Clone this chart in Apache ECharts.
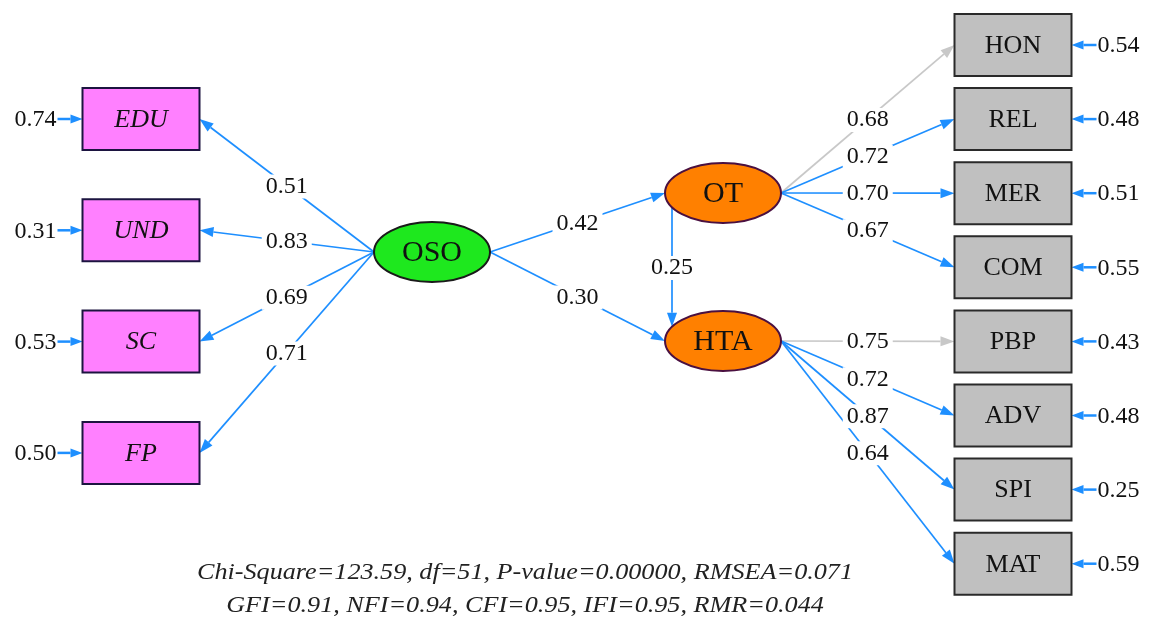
<!DOCTYPE html>
<html>
<head>
<meta charset="utf-8">
<script src="https://cdn.jsdelivr.net/npm/echarts@6/dist/echarts.min.js"></script>
<style>html,body{margin:0;padding:0;background:#fff;}#c{width:1149px;height:619px;}</style>
</head>
<body>
<div id="c"></div>
<script>
// ---- data ----
var osoIndicators = ['EDU', 'UND', 'SC', 'FP'];
var osoLoadings = [0.51, 0.83, 0.69, 0.71];
var osoErrors = [0.74, 0.31, 0.53, 0.50];

var otIndicators = ['HON', 'REL', 'MER', 'COM'];
var otLoadings = [0.68, 0.72, 0.70, 0.67];
var otErrors = [0.54, 0.48, 0.51, 0.55];

var htaIndicators = ['PBP', 'ADV', 'SPI', 'MAT'];
var htaLoadings = [0.75, 0.72, 0.87, 0.64];
var htaErrors = [0.43, 0.48, 0.25, 0.59];

var latentNames = ['OSO', 'OT', 'HTA'];
var pathFrom = ['OSO', 'OSO', 'OT'];
var pathTo = ['OT', 'HTA', 'HTA'];
var pathValues = [0.42, 0.30, 0.25];

var fitLines = [
  'Chi-Square=123.59, df=51, P-value=0.00000, RMSEA=0.071',
  'GFI=0.91, NFI=0.94, CFI=0.95, IFI=0.95, RMR=0.044'
];

// ---- layout (diagram units on hidden value axes) ----
var BOX_W = 117, BOX_H = 62, RX = 58, RY = 30;
var leftX = 141, rightX = 1013;
var leftY0 = 119, leftStep = 111.3;
var rightY0 = 45, rightStep = 74.1;
var latentPos = { OSO: [432, 252], OT: [723, 193], HTA: [723, 341] };
var latentFill = { OSO: '#1ee81e', OT: '#ff8000', HTA: '#ff8000' };

var BLUE = '#1e8fff', GREY = '#c8c8c8';
var SERIF = '"Liberation Serif", "Times New Roman", serif';

var boxes = [];
osoIndicators.forEach(function (n, i) {
  boxes.push({ name: n, x: leftX, y: leftY0 + i * leftStep, fill: '#ff80ff', italic: true, err: osoErrors[i], side: 'left' });
});
var rightErrors = otErrors.concat(htaErrors);
otIndicators.concat(htaIndicators).forEach(function (n, i) {
  boxes.push({ name: n, x: rightX, y: rightY0 + i * rightStep, fill: '#c0c0c0', italic: false, err: rightErrors[i], side: 'right' });
});
function boxOf(name) { for (var i = 0; i < boxes.length; i++) if (boxes[i].name === name) return boxes[i]; }

function ellipseY(cx, cy, x, sign) {
  var dx = (x - cx) / RX;
  return cy + sign * RY * Math.sqrt(Math.max(0, 1 - dx * dx));
}

var edges = [];
osoIndicators.forEach(function (n, i) {
  var b = boxOf(n), o = latentPos.OSO;
  edges.push({ x1: o[0] - RX, y1: o[1], x2: b.x + BOX_W / 2, y2: b.y, label: osoLoadings[i].toFixed(2), color: BLUE });
});
otIndicators.forEach(function (n, i) {
  var b = boxOf(n), o = latentPos.OT;
  edges.push({ x1: o[0] + RX, y1: o[1], x2: b.x - BOX_W / 2, y2: b.y, label: otLoadings[i].toFixed(2), color: i === 0 ? GREY : BLUE });
});
htaIndicators.forEach(function (n, i) {
  var b = boxOf(n), o = latentPos.HTA;
  edges.push({ x1: o[0] + RX, y1: o[1], x2: b.x - BOX_W / 2, y2: b.y, label: htaLoadings[i].toFixed(2), color: i === 0 ? GREY : BLUE });
});
pathFrom.forEach(function (f, i) {
  var a = latentPos[f], b = latentPos[pathTo[i]];
  if (f === 'OSO') {
    edges.push({ x1: a[0] + RX, y1: a[1], x2: b[0] - RX, y2: b[1], label: pathValues[i].toFixed(2), color: BLUE });
  } else {
    var xv = a[0] - 51;
    edges.push({ x1: xv, y1: ellipseY(a[0], a[1], xv, 1), x2: xv, y2: ellipseY(b[0], b[1], xv, -1),
      label: pathValues[i].toFixed(2), color: BLUE });
  }
});

var errArrows = boxes.map(function (b) {
  if (b.side === 'left') return { x1: b.x - BOX_W / 2 - 25, y1: b.y, x2: b.x - BOX_W / 2, y2: b.y, label: b.err.toFixed(2), side: 'left' };
  return { x1: b.x + BOX_W / 2 + 25, y1: b.y, x2: b.x + BOX_W / 2, y2: b.y, label: b.err.toFixed(2), side: 'right' };
});

function arrowShape(p1, p2, L, W) {
  var ang = Math.atan2(p2[1] - p1[1], p2[0] - p1[0]);
  var c = Math.cos(ang), s = Math.sin(ang);
  var bx = p2[0] - L * c, by = p2[1] - L * s;
  return { base: [bx, by], pts: [[p2[0], p2[1]], [bx - W * s, by + W * c], [bx + W * s, by - W * c]] };
}

var chart = echarts.init(document.getElementById('c'), null, { renderer: 'canvas' });
chart.setOption({
  animation: false,
  backgroundColor: '#ffffff',
  grid: { left: 0, right: 0, top: 0, bottom: 0 },
  xAxis: { type: 'value', min: 0, max: 1149, show: false },
  yAxis: { type: 'value', min: 0, max: 619, inverse: true, show: false },
  series: [
    {
      type: 'custom', name: 'edges', coordinateSystem: 'cartesian2d', z: 1,
      data: edges.map(function (e) { return [e.x1, e.y1, e.x2, e.y2]; }),
      renderItem: function (params, api) {
        var e = edges[params.dataIndex];
        var p1 = api.coord([api.value(0), api.value(1)]);
        var p2 = api.coord([api.value(2), api.value(3)]);
        var ar = arrowShape(p1, p2, 14, 5);
        var mx = (p1[0] + p2[0]) / 2, my = (p1[1] + p2[1]) / 2;
        return { type: 'group', children: [
          { type: 'line', shape: { x1: p1[0], y1: p1[1], x2: ar.base[0], y2: ar.base[1] }, style: { stroke: e.color, lineWidth: 1.7 } },
          { type: 'polygon', shape: { points: ar.pts }, style: { fill: e.color } },
          { type: 'text', z2: 10, style: { text: e.label, x: mx, y: my + 1, align: 'center', verticalAlign: 'middle',
            font: '24px ' + SERIF, fill: '#111', backgroundColor: '#fff', padding: [0, 4] } }
        ] };
      }
    },
    {
      type: 'custom', name: 'errors', coordinateSystem: 'cartesian2d', z: 1,
      data: errArrows.map(function (e) { return [e.x1, e.y1, e.x2, e.y2]; }),
      renderItem: function (params, api) {
        var e = errArrows[params.dataIndex];
        var p1 = api.coord([api.value(0), api.value(1)]);
        var p2 = api.coord([api.value(2), api.value(3)]);
        var ar = arrowShape(p1, p2, 12, 4.5);
        var tx = e.side === 'left' ? p1[0] - 1 : p1[0] + 1;
        return { type: 'group', children: [
          { type: 'line', shape: { x1: p1[0], y1: p1[1], x2: ar.base[0], y2: ar.base[1] }, style: { stroke: BLUE, lineWidth: 2.5 } },
          { type: 'polygon', shape: { points: ar.pts }, style: { fill: BLUE } },
          { type: 'text', style: { text: e.label, x: tx, y: p1[1] + 1, align: e.side === 'left' ? 'right' : 'left', verticalAlign: 'middle',
            font: '24px ' + SERIF, fill: '#111' } }
        ] };
      }
    },
    {
      type: 'custom', name: 'observed', coordinateSystem: 'cartesian2d', z: 3,
      data: boxes.map(function (b) { return [b.x, b.y]; }),
      renderItem: function (params, api) {
        var b = boxes[params.dataIndex];
        var c = api.coord([api.value(0), api.value(1)]);
        return { type: 'group', children: [
          { type: 'rect', shape: { x: c[0] - BOX_W / 2, y: c[1] - BOX_H / 2, width: BOX_W, height: BOX_H },
            style: { fill: b.fill, stroke: b.italic ? '#1c1440' : '#2a2a2a', lineWidth: 2 } },
          { type: 'text', z2: 5, style: { text: b.name, x: c[0], y: c[1] + 1, align: 'center', verticalAlign: 'middle',
            font: (b.italic ? 'italic ' : '') + '26px ' + SERIF, fill: '#111' } }
        ] };
      }
    },
    {
      type: 'custom', name: 'latent', coordinateSystem: 'cartesian2d', z: 3,
      data: latentNames.map(function (n) { return latentPos[n]; }),
      renderItem: function (params, api) {
        var n = latentNames[params.dataIndex];
        var c = api.coord([api.value(0), api.value(1)]);
        return { type: 'group', children: [
          { type: 'ellipse', shape: { cx: c[0], cy: c[1], rx: RX, ry: RY },
            style: { fill: latentFill[n], stroke: n === 'OSO' ? '#1a1a1a' : '#4a1040', lineWidth: 2 } },
          { type: 'text', z2: 5, style: { text: n, x: c[0], y: c[1] + 1, align: 'center', verticalAlign: 'middle',
            font: '30px ' + SERIF, fill: '#111' } }
        ] };
      }
    }
  ],
  graphic: fitLines.map(function (t, i) {
    return { type: 'text', x: 525, y: 573 + i * 33, scaleX: 1.09,
      style: { text: t, align: 'center', verticalAlign: 'middle', font: 'italic 24px ' + SERIF, fill: '#222' } };
  })
});
</script>
</body>
</html>
